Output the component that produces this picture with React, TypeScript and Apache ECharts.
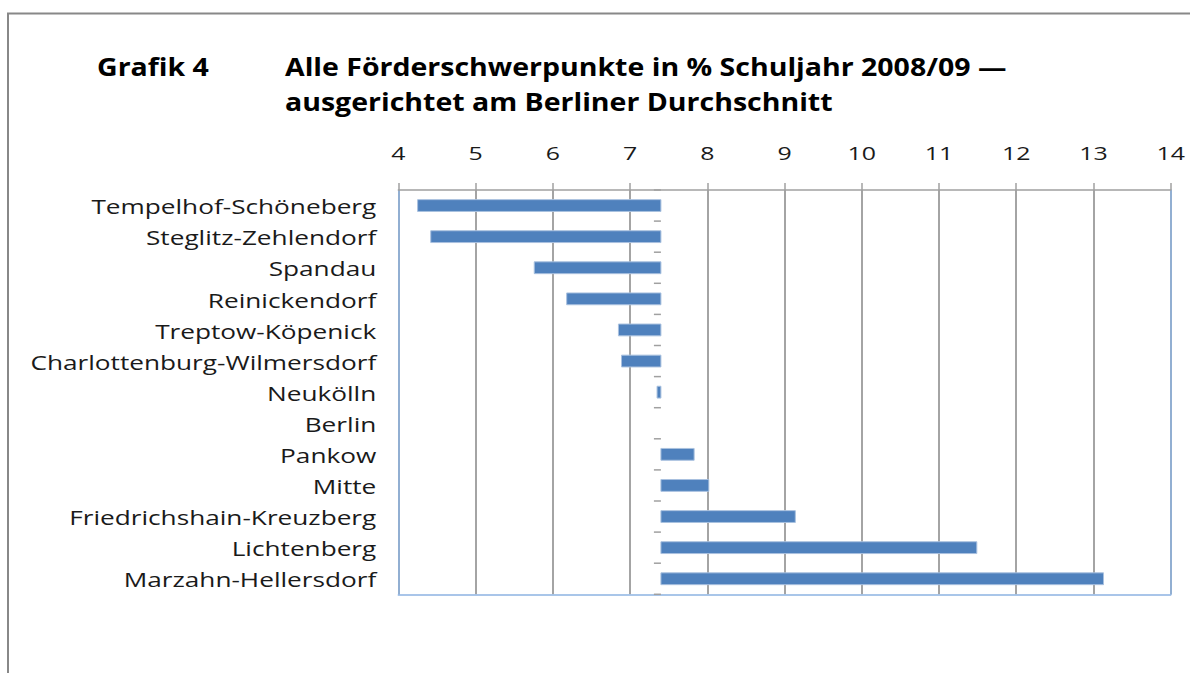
import React, { useEffect, useRef } from "react";
import * as echarts from "echarts";

const districts = [
  "Tempelhof-Schöneberg",
  "Steglitz-Zehlendorf",
  "Spandau",
  "Reinickendorf",
  "Treptow-Köpenick",
  "Charlottenburg-Wilmersdorf",
  "Neukölln",
  "Berlin",
  "Pankow",
  "Mitte",
  "Friedrichshain-Kreuzberg",
  "Lichtenberg",
  "Marzahn-Hellersdorf",
];
const values = [4.25, 4.42, 5.76, 6.18, 6.85, 6.89, 7.35, 7.4, 7.83, 8.02, 9.14, 11.49, 13.13];
const berlinAverage = 7.4;
const xMin = 4;
const xMax = 14;
const xInterval = 1;
const xTickLabels = ["4", "5", "6", "7", "8", "9", "10", "11", "12", "13", "14"];
const titleLabel = "Grafik 4";
const titleLines = [
  "Alle Förderschwerpunkte in % Schuljahr 2008/09 —",
  "ausgerichtet am Berliner Durchschnitt",
];

const FONT = "'Open Sans', 'DejaVu Sans', sans-serif";
const STRETCH_LABEL = 1.31;
const STRETCH_TITLE = 1.14;

export default function App() {
  const ref = useRef<HTMLDivElement>(null);
  useEffect(() => {
    if (!ref.current) return;
    const chart = echarts.init(ref.current, null, { renderer: "svg" });
    const n = districts.length;
    const titleText = (text: string, x: number, y: number) => ({
      type: "text",
      x,
      y,
      scaleX: STRETCH_TITLE,
      style: { text, x: 0, y: 0, font: `bold 25px ${FONT}`, fill: "#000", verticalAlign: "middle", align: "left" },
    });
    chart.setOption({
      animation: false,
      backgroundColor: "#ffffff",
      grid: { left: 398.3, right: 19.3, top: 190, bottom: 78.7, containLabel: false },
      graphic: [
        {
          type: "rect",
          shape: { x: 8, y: 13.5, width: 1250, height: 720 },
          style: { fill: "none", stroke: "#888888", lineWidth: 2 },
          silent: true,
        },
        titleText(titleLabel, 97, 66),
        titleText(titleLines[0], 285, 66),
        titleText(titleLines[1], 285, 101),
      ],
      xAxis: [
        {
          type: "value",
          position: "top",
          min: xMin,
          max: xMax,
          interval: xInterval,
          axisLine: { show: true, lineStyle: { color: "#a0a0a0", width: 1.5 } },
          axisTick: { show: true, length: 7, lineStyle: { color: "#a0a0a0", width: 1.5 } },
          axisLabel: { show: false },
          splitLine: { show: true, lineStyle: { color: "#a4a4a4", width: 2 } },
        },
        {
          type: "value",
          position: "bottom",
          min: xMin,
          max: xMax,
          interval: xInterval,
          axisLine: { show: true, lineStyle: { color: "#8db3e2", width: 1.5 } },
          axisTick: { show: false },
          axisLabel: { show: false },
          splitLine: { show: false },
        },
      ],
      yAxis: [
        {
          type: "category",
          data: districts,
          inverse: true,
          position: "left",
          axisLine: { show: true, lineStyle: { color: "#8db3e2", width: 1.5 } },
          axisTick: { show: false },
          axisLabel: { show: false },
          splitLine: { show: false },
        },
        {
          type: "category",
          data: districts,
          inverse: true,
          position: "right",
          axisLine: { show: true, lineStyle: { color: "#8db3e2", width: 1.5 } },
          axisTick: { show: false },
          axisLabel: { show: false },
          splitLine: { show: false },
        },
      ],
      series: [
        {
          type: "custom",
          xAxisIndex: 0,
          yAxisIndex: 0,
          z: 5,
          data: values.map((v, i) => [v, i]),
          renderItem: (params: any, api: any) => {
            const v = api.value(0);
            const cat = api.value(1);
            const base = api.coord([berlinAverage, cat]);
            const end = api.coord([v, cat]);
            const left = api.coord([xMin, cat]);
            const bandH = api.size([0, 1])[1];
            const barH = bandH * 0.38;
            const x0 = Math.min(base[0], end[0]);
            const w = Math.abs(end[0] - base[0]);
            const children: any[] = [];
            const tickStyle = { stroke: "#a0a0a0", lineWidth: 1.5 };
            children.push({
              type: "text",
              x: left[0] - 22,
              y: base[1] + 1,
              scaleX: STRETCH_LABEL,
              style: {
                text: districts[params.dataIndex],
                x: 0,
                y: 0,
                align: "right",
                verticalAlign: "middle",
                font: `20px ${FONT}`,
                fill: "#1a1a1a",
              },
            });
            children.push({
              type: "line",
              shape: { x1: base[0] - 7, y1: base[1] - bandH / 2, x2: base[0], y2: base[1] - bandH / 2 },
              style: tickStyle,
            });
            if (cat === n - 1) {
              children.push({
                type: "line",
                shape: { x1: base[0] - 7, y1: base[1] + bandH / 2, x2: base[0], y2: base[1] + bandH / 2 },
                style: tickStyle,
              });
            }
            if (w > 0.5) {
              children.push({
                type: "rect",
                shape: { x: x0, y: base[1] - barH / 2, width: w, height: barH },
                style: { fill: "#4f81bd", stroke: "#a9c1df", lineWidth: 1 },
              });
            }
            return { type: "group", children };
          },
        },
        {
          type: "custom",
          xAxisIndex: 0,
          yAxisIndex: 0,
          z: 5,
          data: xTickLabels.map((t) => [Number(t), 0]),
          renderItem: (params: any, api: any) => {
            const p = api.coord([api.value(0), 0]);
            const bandH = api.size([0, 1])[1];
            const top = p[1] - bandH / 2;
            return {
              type: "text",
              x: p[0],
              y: top - 38,
              scaleX: STRETCH_LABEL,
              style: {
                text: xTickLabels[params.dataIndex],
                x: 0,
                y: 0,
                align: "center",
                verticalAlign: "middle",
                font: `19px ${FONT}`,
                fill: "#1a1a1a",
              },
            };
          },
        },
      ],
    });
    return () => chart.dispose();
  }, []);
  return (
    <div
      ref={ref}
      style={{ position: "fixed", left: 0, top: 0, width: 1190, height: 673 }}
    />
  );
}
